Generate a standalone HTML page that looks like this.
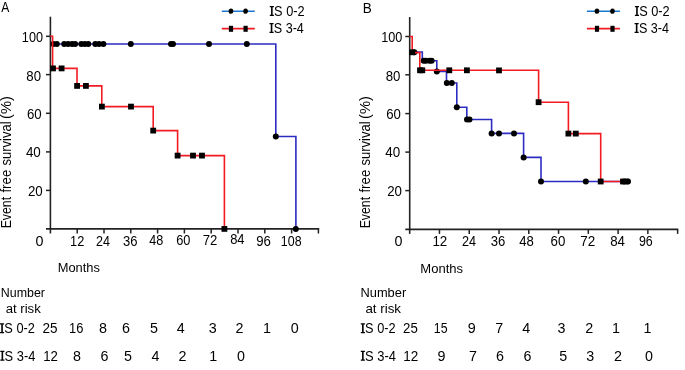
<!DOCTYPE html>
<html><head><meta charset="utf-8"><style>
html,body{margin:0;padding:0;background:#fff;width:685px;height:370px;overflow:hidden}
svg{display:block;font-family:"Liberation Sans",sans-serif}
text{fill:#000}
.tx{will-change:transform}
</style></head><body>
<svg width="685" height="370" viewBox="0 0 685 370">
<rect width="685" height="370" fill="#fff"/>
<path d="M51.2,44.0 H275.8 V136.5 H295.9 V228.9" fill="none" stroke="#2c2cc2" stroke-width="1.6" stroke-linejoin="miter"/>
<path d="M410.5,52 H422.3 V60.7 H436.8 V71.5 H446.5 V83 H456.8 V107.2 H466.8 V119.5 H491.6 V133.4 H523.6 V157.4 H541 V181.5 H628" fill="none" stroke="#2c2cc2" stroke-width="1.6" stroke-linejoin="miter"/>
<line x1="50.4" y1="16.7" x2="50.4" y2="233.5" stroke="#222" stroke-width="1.6"/>
<line x1="46.0" y1="228.9" x2="319.2" y2="228.9" stroke="#222" stroke-width="1.7"/>
<line x1="46.0" y1="36.3" x2="50.4" y2="36.3" stroke="#222" stroke-width="1.5"/>
<line x1="46.0" y1="74.6" x2="50.4" y2="74.6" stroke="#222" stroke-width="1.5"/>
<line x1="46.0" y1="113.3" x2="50.4" y2="113.3" stroke="#222" stroke-width="1.5"/>
<line x1="46.0" y1="151.9" x2="50.4" y2="151.9" stroke="#222" stroke-width="1.5"/>
<line x1="46.0" y1="190.4" x2="50.4" y2="190.4" stroke="#222" stroke-width="1.5"/>
<line x1="77.20" y1="228.9" x2="77.20" y2="233.5" stroke="#222" stroke-width="1.5"/>
<line x1="104.00" y1="228.9" x2="104.00" y2="233.5" stroke="#222" stroke-width="1.5"/>
<line x1="130.80" y1="228.9" x2="130.80" y2="233.5" stroke="#222" stroke-width="1.5"/>
<line x1="157.60" y1="228.9" x2="157.60" y2="233.5" stroke="#222" stroke-width="1.5"/>
<line x1="184.40" y1="228.9" x2="184.40" y2="233.5" stroke="#222" stroke-width="1.5"/>
<line x1="211.20" y1="228.9" x2="211.20" y2="233.5" stroke="#222" stroke-width="1.5"/>
<line x1="238.00" y1="228.9" x2="238.00" y2="233.5" stroke="#222" stroke-width="1.5"/>
<line x1="264.80" y1="228.9" x2="264.80" y2="233.5" stroke="#222" stroke-width="1.5"/>
<line x1="291.60" y1="228.9" x2="291.60" y2="233.5" stroke="#222" stroke-width="1.5"/>
<line x1="318.40" y1="228.9" x2="318.40" y2="233.5" stroke="#222" stroke-width="1.5"/>
<line x1="409.7" y1="17.0" x2="409.7" y2="233.9" stroke="#222" stroke-width="1.6"/>
<line x1="405.3" y1="229.3" x2="678.3" y2="229.3" stroke="#222" stroke-width="1.7"/>
<line x1="405.3" y1="36.5" x2="409.7" y2="36.5" stroke="#222" stroke-width="1.5"/>
<line x1="405.3" y1="74.8" x2="409.7" y2="74.8" stroke="#222" stroke-width="1.5"/>
<line x1="405.3" y1="113.6" x2="409.7" y2="113.6" stroke="#222" stroke-width="1.5"/>
<line x1="405.3" y1="152.1" x2="409.7" y2="152.1" stroke="#222" stroke-width="1.5"/>
<line x1="405.3" y1="190.6" x2="409.7" y2="190.6" stroke="#222" stroke-width="1.5"/>
<line x1="439.47" y1="229.3" x2="439.47" y2="233.9" stroke="#222" stroke-width="1.5"/>
<line x1="469.24" y1="229.3" x2="469.24" y2="233.9" stroke="#222" stroke-width="1.5"/>
<line x1="499.01" y1="229.3" x2="499.01" y2="233.9" stroke="#222" stroke-width="1.5"/>
<line x1="528.78" y1="229.3" x2="528.78" y2="233.9" stroke="#222" stroke-width="1.5"/>
<line x1="558.55" y1="229.3" x2="558.55" y2="233.9" stroke="#222" stroke-width="1.5"/>
<line x1="588.32" y1="229.3" x2="588.32" y2="233.9" stroke="#222" stroke-width="1.5"/>
<line x1="618.09" y1="229.3" x2="618.09" y2="233.9" stroke="#222" stroke-width="1.5"/>
<line x1="647.86" y1="229.3" x2="647.86" y2="233.9" stroke="#222" stroke-width="1.5"/>
<line x1="677.63" y1="229.3" x2="677.63" y2="233.9" stroke="#222" stroke-width="1.5"/>
<circle cx="53.4" cy="44.0" r="3.0"/>
<circle cx="56.8" cy="44.0" r="3.0"/>
<circle cx="64.2" cy="44.0" r="3.0"/>
<circle cx="68.1" cy="44.0" r="3.0"/>
<circle cx="72.1" cy="44.0" r="3.0"/>
<circle cx="75.1" cy="44.0" r="3.0"/>
<circle cx="81.3" cy="44.0" r="3.0"/>
<circle cx="84.8" cy="44.0" r="3.0"/>
<circle cx="88.3" cy="44.0" r="3.0"/>
<circle cx="95.3" cy="44.0" r="3.0"/>
<circle cx="99" cy="44.0" r="3.0"/>
<circle cx="103.4" cy="44.0" r="3.0"/>
<circle cx="130.8" cy="44.0" r="3.0"/>
<circle cx="171" cy="44.0" r="3.0"/>
<circle cx="173" cy="44.0" r="3.0"/>
<circle cx="209" cy="44.0" r="3.0"/>
<circle cx="246.8" cy="44.0" r="3.0"/>
<circle cx="275.8" cy="136.5" r="3.0"/>
<circle cx="295.8" cy="228.9" r="3.0"/>
<circle cx="414.3" cy="52.2" r="3.0"/>
<circle cx="423.7" cy="60.8" r="3.0"/>
<circle cx="425.8" cy="60.8" r="3.0"/>
<circle cx="429.4" cy="60.8" r="3.0"/>
<circle cx="431.6" cy="60.8" r="3.0"/>
<circle cx="436.8" cy="71.5" r="3.0"/>
<circle cx="446.8" cy="83" r="3.0"/>
<circle cx="451.8" cy="83" r="3.0"/>
<circle cx="456.8" cy="107.2" r="3.0"/>
<circle cx="467" cy="119.5" r="3.0"/>
<circle cx="469.5" cy="119.5" r="3.0"/>
<circle cx="491.6" cy="133.4" r="3.0"/>
<circle cx="499" cy="133.4" r="3.0"/>
<circle cx="514" cy="133.4" r="3.0"/>
<circle cx="523.6" cy="157.4" r="3.0"/>
<circle cx="541" cy="181.5" r="3.0"/>
<circle cx="585.8" cy="181.5" r="3.0"/>
<circle cx="628" cy="181.5" r="3.0"/>
<path d="M50.4,36.3 H52.6 V68.4 H77 V85.9 H101.8 V106.6 H153.2 V130.6 H177.6 V155.6 H224.4 V228.9" fill="none" stroke="#f21b22" stroke-width="1.6" stroke-linejoin="miter"/>
<path d="M409.7,36.5 H412.2 V52.6 H419.8 V70.3 H538.6 V102.2 H568.4 V133.6 H600.7 V181.5 H625.5" fill="none" stroke="#f21b22" stroke-width="1.6" stroke-linejoin="miter"/>
<rect x="50.10" y="65.50" width="5.80" height="5.80"/>
<rect x="58.70" y="65.50" width="5.80" height="5.80"/>
<rect x="74.20" y="83.00" width="5.80" height="5.80"/>
<rect x="83.00" y="83.00" width="5.80" height="5.80"/>
<rect x="99.00" y="103.70" width="5.80" height="5.80"/>
<rect x="128.10" y="103.70" width="5.80" height="5.80"/>
<rect x="150.30" y="127.70" width="5.80" height="5.80"/>
<rect x="174.70" y="152.70" width="5.80" height="5.80"/>
<rect x="190.10" y="152.70" width="5.80" height="5.80"/>
<rect x="199.10" y="152.70" width="5.80" height="5.80"/>
<rect x="221.50" y="226.00" width="5.80" height="5.80"/>
<rect x="409.30" y="49.40" width="5.80" height="5.80"/>
<rect x="417.10" y="67.40" width="5.80" height="5.80"/>
<rect x="419.40" y="67.40" width="5.80" height="5.80"/>
<rect x="446.40" y="67.40" width="5.80" height="5.80"/>
<rect x="464.00" y="67.40" width="5.80" height="5.80"/>
<rect x="496.10" y="67.50" width="5.80" height="5.80"/>
<rect x="535.70" y="99.30" width="5.80" height="5.80"/>
<rect x="565.50" y="130.70" width="5.80" height="5.80"/>
<rect x="572.90" y="130.70" width="5.80" height="5.80"/>
<rect x="597.80" y="178.60" width="5.80" height="5.80"/>
<rect x="620.10" y="178.60" width="5.80" height="5.80"/>
<rect x="622.60" y="178.60" width="5.80" height="5.80"/>
<line x1="221.8" y1="11.2" x2="254.8" y2="11.2" stroke="#1a78d0" stroke-width="1.6"/>
<line x1="221.8" y1="28.6" x2="254.8" y2="28.6" stroke="#f21b22" stroke-width="1.6"/>
<ellipse cx="231.0" cy="11.2" rx="2.3" ry="2.6"/>
<rect x="228.9" y="25.8" width="4.2" height="6"/>
<ellipse cx="245.6" cy="11.2" rx="2.3" ry="2.6"/>
<rect x="243.5" y="25.8" width="4.2" height="6"/>
<line x1="586.9" y1="11.2" x2="619.9" y2="11.2" stroke="#1a78d0" stroke-width="1.6"/>
<line x1="586.9" y1="28.6" x2="619.9" y2="28.6" stroke="#f21b22" stroke-width="1.6"/>
<ellipse cx="597.0" cy="11.2" rx="2.3" ry="2.6"/>
<rect x="594.9" y="25.8" width="4.2" height="6"/>
<ellipse cx="612.5" cy="11.2" rx="2.3" ry="2.6"/>
<rect x="610.4" y="25.8" width="4.2" height="6"/>
<g class="tx">
<text transform="translate(1.18,11.80) scale(0.844,1)" font-size="14.3">A</text>
<text transform="translate(362.69,13.00) scale(0.946,1)" font-size="14.3">B</text>
<path d="M269.80,6.10 h4.1 v1.25 h-1.25 v7.40 h1.25 v1.25 h-4.1 v-1.25 h1.25 v-7.40 h-1.25 z" fill="#000"/><text transform="translate(274.12,16.00) scale(0.893,1)" font-size="14.3">S 0-2</text>
<path d="M269.50,23.10 h4.1 v1.25 h-1.25 v7.40 h1.25 v1.25 h-4.1 v-1.25 h1.25 v-7.40 h-1.25 z" fill="#000"/><text transform="translate(273.83,33.00) scale(0.879,1)" font-size="14.3">S 3-4</text>
<path d="M634.90,6.10 h4.1 v1.25 h-1.25 v7.40 h1.25 v1.25 h-4.1 v-1.25 h1.25 v-7.40 h-1.25 z" fill="#000"/><text transform="translate(639.22,16.00) scale(0.893,1)" font-size="14.3">S 0-2</text>
<path d="M634.60,23.10 h4.1 v1.25 h-1.25 v7.40 h1.25 v1.25 h-4.1 v-1.25 h1.25 v-7.40 h-1.25 z" fill="#000"/><text transform="translate(638.93,33.00) scale(0.879,1)" font-size="14.3">S 3-4</text>
<text transform="translate(21.83,41.80) scale(0.887,1)" font-size="14.3">100</text>
<text transform="translate(26.33,80.90) scale(0.924,1)" font-size="14.3">80</text>
<text transform="translate(26.93,118.80) scale(0.923,1)" font-size="14.3">60</text>
<text transform="translate(25.89,156.60) scale(0.939,1)" font-size="14.3">40</text>
<text transform="translate(27.93,196.00) scale(0.930,1)" font-size="14.3">20</text>
<text transform="translate(381.13,41.80) scale(0.887,1)" font-size="14.3">100</text>
<text transform="translate(385.63,80.90) scale(0.924,1)" font-size="14.3">80</text>
<text transform="translate(386.23,118.80) scale(0.923,1)" font-size="14.3">60</text>
<text transform="translate(385.19,156.60) scale(0.939,1)" font-size="14.3">40</text>
<text transform="translate(387.23,196.00) scale(0.930,1)" font-size="14.3">20</text>
<text x="35.52" y="246.00" font-size="14.3">0</text>
<text transform="translate(70.03,245.90) scale(0.894,1)" font-size="14.3">12</text>
<text transform="translate(95.97,245.90) scale(0.880,1)" font-size="14.3">24</text>
<text transform="translate(123.10,245.90) scale(0.910,1)" font-size="14.3">36</text>
<text transform="translate(149.31,245.40) scale(0.883,1)" font-size="14.3">48</text>
<text transform="translate(176.15,245.40) scale(0.896,1)" font-size="14.3">60</text>
<text transform="translate(202.73,245.40) scale(0.920,1)" font-size="14.3">72</text>
<text transform="translate(230.14,244.00) scale(0.908,1)" font-size="14.3">84</text>
<text transform="translate(256.18,246.20) scale(0.924,1)" font-size="14.3">96</text>
<text transform="translate(280.86,245.60) scale(0.867,1)" font-size="14.3">108</text>
<text x="394.62" y="246.00" font-size="14.3">0</text>
<text transform="translate(432.38,246.00) scale(0.936,1)" font-size="14.3">12</text>
<text transform="translate(462.06,246.00) scale(0.887,1)" font-size="14.3">24</text>
<text transform="translate(490.80,246.00) scale(0.916,1)" font-size="14.3">36</text>
<text transform="translate(519.30,245.80) scale(0.916,1)" font-size="14.3">48</text>
<text transform="translate(550.52,245.80) scale(0.930,1)" font-size="14.3">60</text>
<text transform="translate(580.31,245.80) scale(0.941,1)" font-size="14.3">72</text>
<text transform="translate(610.22,245.80) scale(0.928,1)" font-size="14.3">84</text>
<text transform="translate(638.92,245.80) scale(0.869,1)" font-size="14.3">96</text>
<text transform="translate(57.74,272.30) scale(0.954,1)" font-size="13.5">Months</text>
<text transform="translate(420.33,272.50) scale(0.965,1)" font-size="13.5">Months</text>
<text transform="translate(0.78,296.80) scale(0.921,1)" font-size="13.5">Number</text>
<text transform="translate(5.64,312.80) scale(0.976,1)" font-size="13.5">at risk</text>
<text transform="translate(360.55,297.20) scale(0.951,1)" font-size="13.5">Number</text>
<text transform="translate(365.43,312.70) scale(0.987,1)" font-size="13.5">at risk</text>
<path d="M0.00,323.30 h4.1 v1.25 h-1.25 v7.40 h1.25 v1.25 h-4.1 v-1.25 h1.25 v-7.40 h-1.25 z" fill="#000"/><text transform="translate(4.32,333.20) scale(0.893,1)" font-size="14.3">S 0-2</text>
<path d="M0.30,350.80 h4.1 v1.25 h-1.25 v7.40 h1.25 v1.25 h-4.1 v-1.25 h1.25 v-7.40 h-1.25 z" fill="#000"/><text transform="translate(4.62,360.70) scale(0.900,1)" font-size="14.3">S 3-4</text>
<path d="M360.80,323.30 h4.1 v1.25 h-1.25 v7.40 h1.25 v1.25 h-4.1 v-1.25 h1.25 v-7.40 h-1.25 z" fill="#000"/><text transform="translate(365.12,333.20) scale(0.893,1)" font-size="14.3">S 0-2</text>
<path d="M360.80,350.80 h4.1 v1.25 h-1.25 v7.40 h1.25 v1.25 h-4.1 v-1.25 h1.25 v-7.40 h-1.25 z" fill="#000"/><text transform="translate(365.11,360.70) scale(0.903,1)" font-size="14.3">S 3-4</text>
<text transform="translate(42.52,333.20) scale(0.946,1)" font-size="14.3">25</text>
<text transform="translate(69.12,333.20) scale(0.902,1)" font-size="14.3">16</text>
<text x="99.12" y="333.20" font-size="14.3">8</text>
<text x="121.97" y="333.20" font-size="14.3">6</text>
<text x="149.89" y="333.20" font-size="14.3">5</text>
<text x="176.77" y="333.20" font-size="14.3">4</text>
<text x="208.77" y="333.20" font-size="14.3">3</text>
<text x="235.57" y="333.20" font-size="14.3">2</text>
<text x="263.08" y="333.20" font-size="14.3">1</text>
<text x="290.72" y="333.20" font-size="14.3">0</text>
<text transform="translate(403.03,333.20) scale(0.926,1)" font-size="14.3">25</text>
<text transform="translate(433.76,333.20) scale(0.865,1)" font-size="14.3">15</text>
<text x="467.68" y="333.20" font-size="14.3">9</text>
<text x="495.17" y="333.20" font-size="14.3">7</text>
<text x="522.27" y="333.20" font-size="14.3">4</text>
<text x="557.52" y="333.20" font-size="14.3">3</text>
<text x="585.37" y="333.20" font-size="14.3">2</text>
<text x="611.93" y="333.20" font-size="14.3">1</text>
<text x="643.43" y="333.20" font-size="14.3">1</text>
<text transform="translate(43.20,360.70) scale(0.922,1)" font-size="14.3">12</text>
<text x="73.12" y="360.70" font-size="14.3">8</text>
<text x="100.47" y="360.70" font-size="14.3">6</text>
<text x="124.04" y="360.70" font-size="14.3">5</text>
<text x="151.42" y="360.70" font-size="14.3">4</text>
<text x="178.42" y="360.70" font-size="14.3">2</text>
<text x="209.33" y="360.70" font-size="14.3">1</text>
<text x="236.92" y="360.70" font-size="14.3">0</text>
<text transform="translate(403.37,360.70) scale(0.943,1)" font-size="14.3">12</text>
<text x="437.48" y="360.70" font-size="14.3">9</text>
<text x="469.12" y="360.70" font-size="14.3">7</text>
<text x="496.07" y="360.70" font-size="14.3">6</text>
<text x="523.47" y="360.70" font-size="14.3">6</text>
<text x="559.24" y="360.70" font-size="14.3">5</text>
<text x="586.32" y="360.70" font-size="14.3">3</text>
<text x="613.92" y="360.70" font-size="14.3">2</text>
<text x="644.92" y="360.70" font-size="14.3">0</text>
<text transform="translate(11.00,228.31) rotate(-90) scale(0.890,1)" font-size="13.8">Event</text>
<text transform="translate(11.00,192.59) rotate(-90) scale(0.962,1)" font-size="13.8">free</text>
<text transform="translate(11.00,165.46) rotate(-90) scale(0.943,1)" font-size="13.8">survival</text>
<text transform="translate(11.00,119.01) rotate(-90) scale(1.068,1)" font-size="13.8">(%)</text>
<text transform="translate(370.30,228.31) rotate(-90) scale(0.890,1)" font-size="13.8">Event</text>
<text transform="translate(370.30,192.59) rotate(-90) scale(0.962,1)" font-size="13.8">free</text>
<text transform="translate(370.30,165.46) rotate(-90) scale(0.943,1)" font-size="13.8">survival</text>
<text transform="translate(370.30,119.01) rotate(-90) scale(1.068,1)" font-size="13.8">(%)</text>
</g>
</svg>
</body></html>
